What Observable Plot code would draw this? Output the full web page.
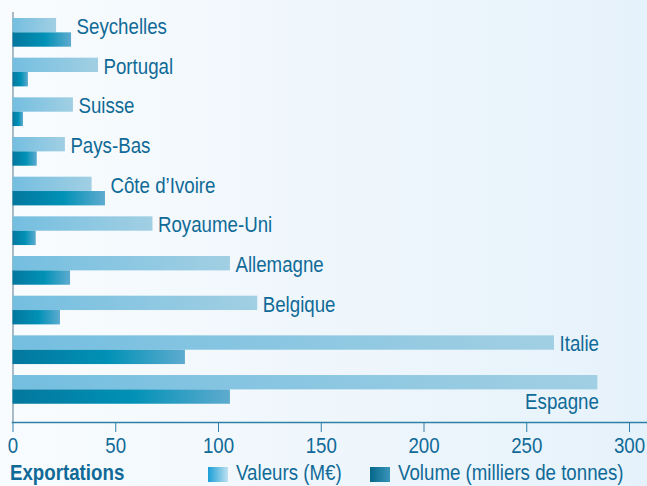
<!DOCTYPE html>
<html>
<head>
<meta charset="utf-8">
<script src="https://cdn.jsdelivr.net/npm/d3@7"></script>
<script src="https://cdn.jsdelivr.net/npm/@observablehq/plot@0.6"></script>
<style>
  html, body { margin: 0; padding: 0; }
  #wrap {
    position: relative; width: 647px; height: 486px; overflow: hidden;
    background: linear-gradient(90deg, #f9fcfe 0%, #f0f7fc 45%, #e6f2fb 100%);
    font-family: "Liberation Sans", Arial, sans-serif;
    color: #106a97;
  }
  #wrap svg { position: absolute; left: 0; top: 0; }
  .lg { position: absolute; font-size: 22px; line-height: 1; white-space: nowrap; transform: scaleX(0.85); transform-origin: 0 0; }
  .sw { position: absolute; width: 20px; height: 15px; }
</style>
</head>
<body>
<div id="wrap"></div>
<script>
const countries = ["Seychelles", "Portugal", "Suisse", "Pays-Bas", "Côte d’Ivoire", "Royaume-Uni", "Allemagne", "Belgique", "Italie", "Espagne"];
const valeurs = [21.2, 41.6, 29.4, 25.5, 38.5, 68.1, 105.8, 119.1, 263.5, 284.6];
const volumes = [28.5, 7.5, 5.1, 11.8, 45.0, 11.3, 28.0, 23.1, 83.9, 105.8];
const xTicks = [0, 50, 100, 150, 200, 250, 300];
const legendTitle = "Exportations";
const seriesNames = ["Valeurs (M€)", "Volume (milliers de tonnes)"];

const rows = countries.map((c, i) => ({country: c, valeur: valeurs[i], volume: volumes[i], maxv: Math.max(valeurs[i], volumes[i])}));
const lastCountry = countries[countries.length - 1];
const textColor = "#106a97";
const font = "\"Liberation Sans\", Arial, sans-serif";
const squeeze = 0.85;

const W = 647, H = 460;
const half = 14.35;

const chart = Plot.plot({
  width: W,
  height: H,
  marginLeft: 12,
  marginRight: 0,
  marginTop: 12,
  marginBottom: 38,
  style: {background: "transparent", fontFamily: font, fontSize: "22px", color: textColor},
  x: {domain: [0, 306], range: [12.5, 12.5 + 306 * 2.055]},
  y: {domain: countries, range: [7.03, 414.7], padding: 0.2765, round: false, axis: null},
  marks: [
    Plot.ruleX([0], {stroke: "#8ea6b4", strokeWidth: 1.5}),
    Plot.barX(rows, {y: "country", x: "valeur", fill: "url(#gradVal)", insetBottom: half, insetTop: 0}),
    Plot.barX(rows, {y: "country", x: "volume", fill: "url(#gradVol)", insetTop: half, insetBottom: 0}),
    Plot.text(rows.filter(d => d.country !== lastCountry), {
      y: "country", x: "maxv", text: "country", textAnchor: "start", dx: 5, dy: -6,
      fill: textColor, fontSize: 22
    }),
    Plot.text(rows.filter(d => d.country === lastCountry), {
      y: "country", x: "valeur", text: "country", textAnchor: "end", dx: 1, dy: 12.5,
      fill: textColor, fontSize: 22
    }),
    Plot.frame({anchor: "bottom", stroke: "#2f7fa6", strokeWidth: 1.5}),
    Plot.axisX({ticks: xTicks, tickSize: 10, tickPadding: 5, tickFormat: d => String(d), stroke: "#2f7fa6", fill: textColor, fontSize: 22, label: null})
  ]
});

// gradient definitions
const svg = d3.select(chart);
const defs = svg.insert("defs", ":first-child");
const gv = defs.append("linearGradient").attr("id", "gradVal").attr("x1", 0).attr("x2", 1).attr("y1", 0).attr("y2", 0);
gv.append("stop").attr("offset", 0).attr("stop-color", "#74bee0");
gv.append("stop").attr("offset", 1).attr("stop-color", "#a1cfe3");
const gw = defs.append("linearGradient").attr("id", "gradVol").attr("x1", 0).attr("x2", 1).attr("y1", 0).attr("y2", 0);
gw.append("stop").attr("offset", 0).attr("stop-color", "#03779e");
gw.append("stop").attr("offset", 0.55).attr("stop-color", "#0191b6");
gw.append("stop").attr("offset", 1).attr("stop-color", "#5eabcf");

// condensed look: squeeze every text horizontally around its anchor
svg.selectAll("text").each(function () {
  const x = +this.getAttribute("x") || 0;
  const t = this.getAttribute("transform") || "";
  this.setAttribute("transform", `${t} translate(${x * (1 - squeeze)},0) scale(${squeeze},1)`);
});

const wrap = document.getElementById("wrap");
wrap.appendChild(chart);

// legend below the chart
function addText(txt, left, top, bold) {
  const s = document.createElement("div");
  s.className = "lg";
  s.textContent = txt;
  s.style.left = left + "px";
  s.style.top = top + "px";
  if (bold) s.style.fontWeight = "bold";
  wrap.appendChild(s);
}
function addSwatch(left, top, grad) {
  const s = document.createElement("div");
  s.className = "sw";
  s.style.left = left + "px";
  s.style.top = top + "px";
  s.style.background = grad;
  wrap.appendChild(s);
}
addText(legendTitle, 10, 462, true);
addSwatch(208, 467, "linear-gradient(90deg, #1a9fd6, #bfe1f0)");
addText(seriesNames[0], 236, 462, false);
addSwatch(370, 467, "linear-gradient(90deg, #06678a, #3a95bb)");
addText(seriesNames[1], 398, 462, false);
</script>
</body>
</html>
